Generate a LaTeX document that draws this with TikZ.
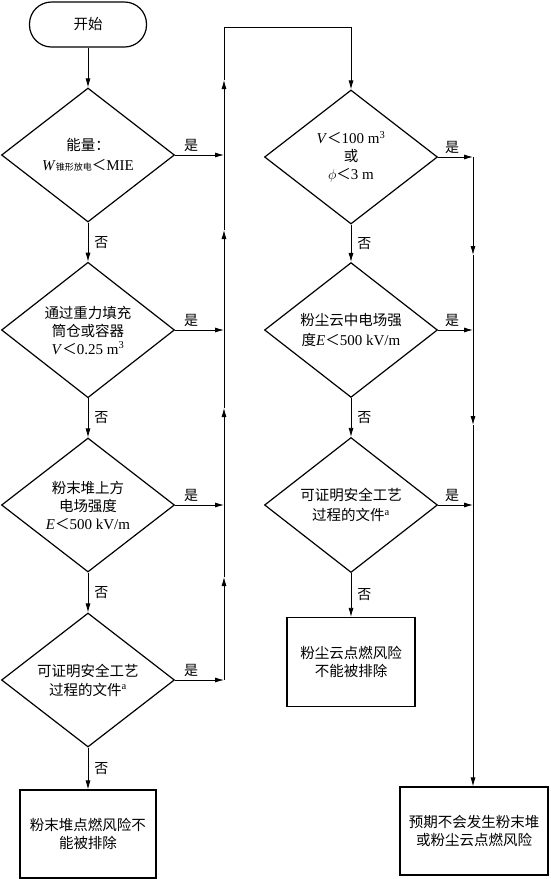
\documentclass[tikz,border=0pt]{standalone}
\usepackage{fontspec}
\setmainfont{Liberation Serif}
\newfontfamily\cjk{Noto Sans CJK SC}
\usetikzlibrary{shapes.geometric,arrows.meta}
\newcommand\latn[1]{{\rmfamily\fontsize{15}{18}\selectfont #1}}
\begin{document}
\begin{tikzpicture}[x=1pt,y=-1pt,
  every node/.style={font=\fontsize{14.5}{18}\selectfont\cjk, inner sep=0pt},
  dec/.style={draw, line width=1.2pt, diamond, minimum width=173pt, minimum height=134pt, align=center},
  boxn/.style={draw, line width=1.2pt, rectangle, align=center},
  lbl/.style={font=\fontsize{14}{15}\selectfont\cjk},
  flow/.style={line width=0.8pt, -{Latex[length=9pt,width=5pt]}},
  plain/.style={line width=0.8pt}]
\useasboundingbox (0,0) rectangle (551,879);

% nodes
\node[draw, line width=1.2pt, rectangle, rounded corners=22pt, minimum width=117pt, minimum height=45pt] (start) at (88,24.5) {开始};

\node[dec, font=\fontsize{14.5}{20}\selectfont\cjk] (d1) at (88,155) {能量：\\\latn{\textit{W}}{\fontsize{9}{9}\selectfont 锥形放电}＜\latn{MIE}};
\node[dec] (d2) at (88,330) {通过重力填充\\筒仓或容器\\\latn{\textit{V}}＜\latn{0.25 m\textsuperscript{3}}};
\node[dec] (d3) at (88,505) {粉末堆上方\\电场强度\\\latn{\textit{E}}＜\latn{500 kV/m}};
\node[dec, font=\fontsize{14.5}{19}\selectfont\cjk] (d4) at (88,680) {可证明安全工艺\\过程的文件\latn{\textsuperscript{a}}};
\node[boxn, minimum width=136pt, minimum height=88pt] (b1) at (88,834) {粉末堆点燃风险不\\能被排除};

\node[dec] (d5) at (351,157) {\latn{\textit{V}}＜\latn{100 m\textsuperscript{3}}\\或\\\latn{$\phi$}＜\latn{3 m}};
\node[dec, font=\fontsize{14.5}{20}\selectfont\cjk] (d6) at (351,330) {粉尘云中电场强\\度\latn{\textit{E}}＜\latn{500 kV/m}};
\node[dec, font=\fontsize{14.5}{20}\selectfont\cjk] (d7) at (351,505) {可证明安全工艺\\过程的文件\latn{\textsuperscript{a}}};
\node[boxn, minimum width=128pt, minimum height=89pt] (b2) at (351,662) {粉尘云点燃风险\\不能被排除};
\node[boxn, minimum width=148pt, minimum height=88pt] (b3) at (474,831) {预期不会发生粉末堆\\或粉尘云点燃风险};

% junction coordinates
\coordinate (j1) at (224,155);
\coordinate (j2) at (224,330);
\coordinate (j3) at (224,505);
\coordinate (j4) at (224,680);
\coordinate (u1) at (224,80);
\coordinate (u2) at (224,230);
\coordinate (u3) at (224,408);
\coordinate (u4) at (224,577);
\coordinate (tl) at (224,27);
\coordinate (tr) at (351,27);
\coordinate (r1) at (473,157);
\coordinate (r2) at (473,330);
\coordinate (r3) at (473,505);
\coordinate (v1) at (473,255);
\coordinate (v2) at (473,425);

% left column
\draw[flow] (start) -- (d1);
\draw[flow] (d1) -- node[lbl, right=6pt] {否} (d2);
\draw[flow] (d2) -- node[lbl, right=6pt] {否} (d3);
\draw[flow] (d3) -- node[lbl, right=6pt] {否} (d4);
\draw[flow] (d4) -- node[lbl, right=6pt] {否} (b1);

\draw[flow] (d1.east) -- node[lbl, pos=0.33, above=3pt] {是} (j1);
\draw[flow] (d2.east) -- node[lbl, pos=0.33, above=3pt] {是} (j2);
\draw[flow] (d3.east) -- node[lbl, pos=0.33, above=3pt] {是} (j3);
\draw[flow] (d4.east) -- node[lbl, pos=0.33, above=3pt] {是} (j4);

\draw[flow] (j4) -- (u4);
\draw[plain] (u4) -- (j3);
\draw[flow] (j3) -- (u3);
\draw[plain] (u3) -- (j2);
\draw[flow] (j2) -- (u2);
\draw[plain] (u2) -- (j1);
\draw[flow] (j1) -- (u1);
\draw[flow] (u1) -- (tl) -- (tr) -- (d5.north);

% right column
\draw[flow] (d5) -- node[lbl, right=6pt] {否} (d6);
\draw[flow] (d6) -- node[lbl, right=6pt] {否} (d7);
\draw[flow] (d7) -- node[lbl, right=6pt] {否} (b2);

\draw[flow] (d5.east) -- node[lbl, pos=0.4, above=3pt] {是} (r1);
\draw[flow] (d6.east) -- node[lbl, pos=0.4, above=3pt] {是} (r2);
\draw[flow] (d7.east) -- node[lbl, pos=0.4, above=3pt] {是} (r3);

\draw[flow] (r1) -- (v1);
\draw[plain] (v1) -- (r2);
\draw[flow] (r2) -- (v2);
\draw[plain] (v2) -- (r3);
\draw[flow] (r3) -- (r3 |- b3.north);
\end{tikzpicture}
\end{document}
